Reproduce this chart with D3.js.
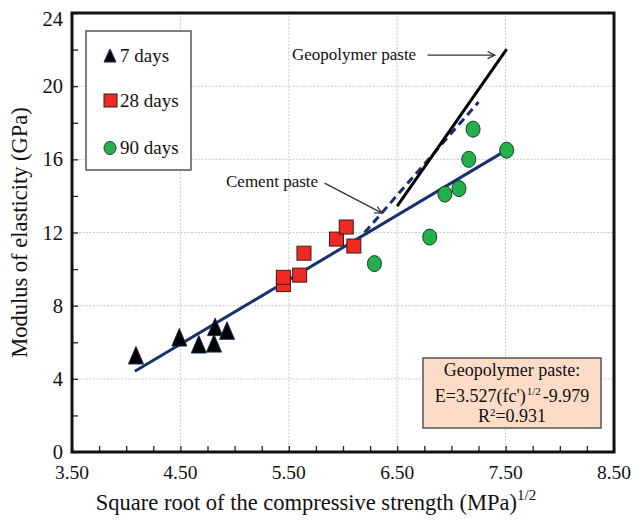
<!DOCTYPE html>
<html>
<head>
<meta charset="utf-8">
<script src="https://cdn.jsdelivr.net/npm/d3@7"></script>
<style>
  html, body { margin: 0; padding: 0; background: #fff; }
  svg { display: block; }
</style>
</head>
<body>
<svg id="chart" width="633" height="524"></svg>
<script>
// ---------- data ----------
const xTickValues = [3.5, 4.5, 5.5, 6.5, 7.5, 8.5];
const xTickLabels = ["3.50", "4.50", "5.50", "6.50", "7.50", "8.50"];
const yTickValues = [0, 4, 8, 12, 16, 20, 24];
const yTickLabels = ["0", "4", "8", "12", "16", "20", "24"];

const seriesNames = ["7 days", "28 days", "90 days"];
const days7 = [[4.09, 5.25], [4.49, 6.23], [4.67, 5.85], [4.81, 5.90], [4.82, 6.80], [4.93, 6.60]];
const days28 = [[5.45, 9.15], [5.45, 9.55], [5.60, 9.67], [5.64, 10.87], [5.94, 11.64], [6.03, 12.30], [6.10, 11.26]];
const days90 = [[6.29, 10.30], [6.80, 11.75], [6.94, 14.10], [7.07, 14.40], [7.16, 16.00], [7.20, 17.65], [7.51, 16.50]];

const fitSlope = 3.527, fitIntercept = -9.979;
const fitRange = [4.08, 7.52];
const geopolymerLine = [[6.50, 13.44], [7.51, 22.02]];
const cementLine = [[6.20, 12.00], [7.25, 19.13]];

const geoArrow = [[6.78, 21.7], [7.40, 21.7]];
const cementArrow = [[5.83, 14.7], [6.36, 13.06]];

// ---------- layout ----------
const FONT = "Liberation Serif";
const svg = d3.select("#chart");
const x = d3.scaleLinear().domain([3.5, 8.5]).range([72, 614]);
const y = d3.scaleLinear().domain([0, 24]).range([452, 13]);

const navy = "#17306e";
const txt = sel => sel.style("font-family", FONT).attr("fill", "#111");

// gridlines
const grid = svg.append("g");
grid.selectAll("line.gx").data(xTickValues.slice(1, -1)).enter().append("line")
  .attr("x1", d => x(d)).attr("x2", d => x(d)).attr("y1", y(0)).attr("y2", y(24))
  .attr("stroke", "#c8c8c8").attr("stroke-width", 1).attr("stroke-dasharray", "2,1.5");
grid.selectAll("line.gy").data(yTickValues.slice(1, -1)).enter().append("line")
  .attr("y1", d => y(d)).attr("y2", d => y(d)).attr("x1", x(3.5)).attr("x2", x(8.5))
  .attr("stroke", "#c8c8c8").attr("stroke-width", 1).attr("stroke-dasharray", "2,1.5");

// axes with inward ticks
const xMinor = d3.range(3.5, 8.5001, 0.25);
const gx = svg.append("g").attr("transform", `translate(0,${y(0)})`)
  .call(d3.axisBottom(x).tickValues(xMinor).tickSize(-6).tickFormat(""));
gx.select(".domain").remove();
gx.selectAll("line").attr("stroke", "#222").attr("stroke-width", 1.3);

const yMinor = d3.range(0, 24.001, 2);
const gy = svg.append("g").attr("transform", `translate(${x(3.5)},0)`)
  .call(d3.axisLeft(y).tickValues(yMinor).tickSize(-6).tickFormat(""));
gy.select(".domain").remove();
gy.selectAll("line").attr("stroke", "#222").attr("stroke-width", 1.3);

// tick labels
svg.append("g").selectAll("text").data(xTickValues).enter().append("text")
  .call(txt)
  .attr("x", d => x(d)).attr("y", 479).attr("text-anchor", "middle")
  .attr("font-size", 19.5).text((d, i) => xTickLabels[i]);
svg.append("g").selectAll("text").data(yTickValues).enter().append("text")
  .call(txt)
  .attr("x", 63).attr("y", d => Math.max(y(d) + 7, 26)).attr("text-anchor", "end")
  .attr("font-size", 20.5).text((d, i) => yTickLabels[i]);

// frame
svg.append("rect").attr("x", x(3.5)).attr("y", y(24))
  .attr("width", x(8.5) - x(3.5)).attr("height", y(0) - y(24))
  .attr("fill", "none").attr("stroke", "#111").attr("stroke-width", 3);

// lines
const line = d3.line().x(d => x(d[0])).y(d => y(d[1]));
svg.append("path").datum(fitRange.map(v => [v, fitSlope * v + fitIntercept]))
  .attr("d", line).attr("stroke", navy).attr("stroke-width", 3).attr("fill", "none");
svg.append("path").datum(cementLine)
  .attr("d", line).attr("stroke", navy).attr("stroke-width", 3).attr("stroke-dasharray", "8,5").attr("fill", "none");
svg.append("path").datum(geopolymerLine)
  .attr("d", line).attr("stroke", "#000").attr("stroke-width", 3).attr("fill", "none");

// markers
const triPath = "M0,-9.5 L7.5,8 L-7.5,8 Z";
const markers = svg.append("g");
markers.selectAll("path.tri").data(days7).enter().append("path")
  .attr("d", triPath).attr("transform", d => `translate(${x(d[0])},${y(d[1])})`)
  .attr("fill", "#000").attr("stroke", "#1d2a50").attr("stroke-width", 1);
markers.selectAll("rect.sq").data(days28).enter().append("rect")
  .attr("x", d => x(d[0]) - 7).attr("y", d => y(d[1]) - 7).attr("width", 14).attr("height", 14)
  .attr("fill", "#ee2a22").attr("stroke", "#3a1a1a").attr("stroke-width", 1);
markers.selectAll("ellipse.ci").data(days90).enter().append("ellipse")
  .attr("cx", d => x(d[0])).attr("cy", d => y(d[1])).attr("rx", 7).attr("ry", 8)
  .attr("fill", "#22b04b").attr("stroke", "#1a3a22").attr("stroke-width", 1);

// legend
const lg = svg.append("g");
lg.append("rect").attr("x", 86).attr("y", 31).attr("width", 105).attr("height", 139)
  .attr("fill", "#fff").attr("stroke", "#555").attr("stroke-width", 1.5);
lg.append("path").attr("d", "M0,-7 L6,6 L-6,6 Z").attr("transform", "translate(110,56)")
  .attr("fill", "#000").attr("stroke", "#1d2a50");
lg.append("rect").attr("x", 104).attr("y", 94).attr("width", 13).attr("height", 13)
  .attr("fill", "#ee2a22").attr("stroke", "#3a1a1a");
lg.append("ellipse").attr("cx", 110).attr("cy", 148).attr("rx", 6).attr("ry", 6.5)
  .attr("fill", "#22b04b").attr("stroke", "#1a3a22");
[62, 107, 154].forEach((yy, i) => {
  lg.append("text").call(txt)
    .attr("x", 120).attr("y", yy).attr("font-size", 19).text(seriesNames[i]);
});

// annotation arrows
const arrowDef = svg.append("defs").append("marker").attr("id", "arr")
  .attr("viewBox", "0 0 10 10").attr("refX", 9).attr("refY", 5)
  .attr("markerWidth", 9).attr("markerHeight", 9).attr("orient", "auto").attr("markerUnits", "userSpaceOnUse");
arrowDef.append("path").attr("d", "M1,1 L9,5 L1,9").attr("fill", "none").attr("stroke", "#333").attr("stroke-width", 1.4);

svg.append("path").datum(geoArrow).attr("d", line)
  .attr("stroke", "#333").attr("stroke-width", 1.3).attr("marker-end", "url(#arr)");
svg.append("path").datum(cementArrow).attr("d", line)
  .attr("stroke", "#333").attr("stroke-width", 1.3).attr("marker-end", "url(#arr)");
svg.append("text").call(txt)
  .attr("x", 292).attr("y", 60).attr("font-size", 17).text("Geopolymer paste");
svg.append("text").call(txt)
  .attr("x", 226).attr("y", 187).attr("font-size", 17).text("Cement paste");

// equation box
const eq = svg.append("g");
eq.append("rect").attr("x", 423).attr("y", 358).attr("width", 178).attr("height", 70)
  .attr("fill", "#fcdcc6").attr("stroke", "#555").attr("stroke-width", 1.5);
eq.append("text").call(txt)
  .attr("x", 512).attr("y", 376).attr("text-anchor", "middle").attr("font-size", 18)
  .text("Geopolymer paste:");
const l2 = eq.append("text").call(txt)
  .attr("x", 512).attr("y", 402).attr("text-anchor", "middle").attr("font-size", 18);
l2.append("tspan").text("E=3.527(fc')");
l2.append("tspan").attr("font-size", 11).attr("dy", -7).attr("dx", 1).text("1/2");
l2.append("tspan").attr("dy", 7).attr("dx", 2).text("-9.979");
const l3 = eq.append("text").call(txt)
  .attr("x", 512).attr("y", 422).attr("text-anchor", "middle").attr("font-size", 18);
l3.append("tspan").text("R");
l3.append("tspan").attr("font-size", 11).attr("dy", -6).text("2");
l3.append("tspan").attr("dy", 6).text("=0.931");

// axis titles
const xt = svg.append("text").call(txt)
  .attr("x", 316).attr("y", 510).attr("text-anchor", "middle").attr("font-size", 22.5);
xt.append("tspan").text("Square root of the compressive strength (MPa)");
xt.append("tspan").attr("font-size", 15).attr("dy", -10).text("1/2");

svg.append("text").call(txt)
  .attr("transform", `translate(27,${(y(0) + y(24)) / 2}) rotate(-90)`)
  .attr("text-anchor", "middle").attr("font-size", 22.5).text("Modulus of elasticity (GPa)");
</script>
</body>
</html>
